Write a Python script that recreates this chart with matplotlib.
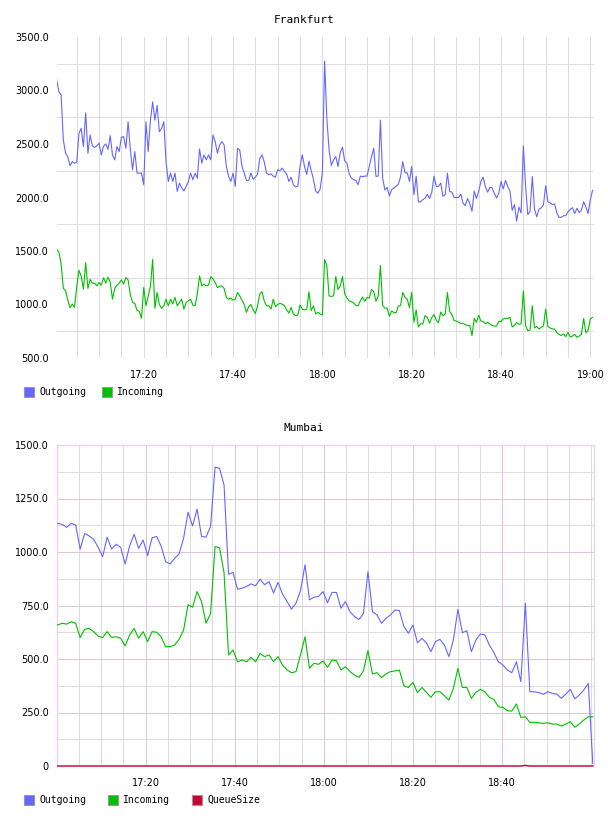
import numpy as np
import matplotlib
matplotlib.use("Agg")
import matplotlib.pyplot as plt
from matplotlib.patches import Rectangle
from matplotlib.ticker import MultipleLocator, FixedLocator, FuncFormatter


# Data -----------------------------------------------------------------
# times are minutes after 17:00

# Frankfurt: one sample every 30 s from 17:00:30
fra_start = 0.5
fra_step = 0.5

fra_out = [
    3101, 2987, 2960, 2537, 2414, 2380, 2296, 2336, 2320, 2330,
    2600, 2646, 2476, 2791, 2414, 2584, 2482, 2469, 2482, 2507,
    2398, 2480, 2500, 2450, 2578, 2398, 2352, 2476, 2429, 2562,
    2569, 2460, 2708, 2445, 2259, 2429, 2228, 2228, 2228, 2119,
    2708, 2429, 2723, 2894, 2723, 2860, 2615, 2646, 2708, 2330,
    2150, 2228, 2150, 2228, 2057, 2135, 2090, 2060, 2104, 2150,
    2228, 2166, 2228, 2181, 2454, 2321, 2398, 2352, 2398, 2352,
    2584, 2522, 2414, 2491, 2522, 2491, 2290, 2197, 2150, 2228,
    2104, 2460, 2445,
    2290, 2228, 2160, 2158, 2228, 2170, 2190, 2220, 2367, 2398,
    2330, 2228, 2212, 2220, 2200, 2190, 2260, 2250, 2274, 2243,
    2220, 2150, 2190, 2120, 2100, 2104, 2290, 2400, 2290, 2215,
    2340, 2250, 2170, 2060, 2040, 2080, 2228, 3275, 2739, 2445,
    2300, 2350, 2383, 2290, 2420, 2470, 2340, 2320, 2220, 2181,
    2166, 2160, 2120, 2200, 2195, 2200, 2200, 2290, 2380, 2460,
    2197, 2200, 2723, 2180, 2070, 2095, 2015, 2073, 2088, 2104,
    2125, 2190, 2336, 2230, 2230, 2150, 2290, 2026, 2200, 1960,
    1960, 1980, 1995, 2030, 1990, 2050, 2200, 2104, 2104, 2135,
    2011, 2026, 2228, 2057, 2050, 2000, 2000, 2000, 2030, 1945,
    1925, 1990, 1945, 1872, 2060, 1990, 2060, 2150, 2190, 2100,
    2050, 2095, 2090, 2040, 1995, 2040, 2150, 2080, 2160, 2104,
    2060, 1880, 1934, 1780, 1910, 1856, 2482, 2104, 1841, 1870,
    2197, 1890, 1820, 1890, 1903, 1930, 2110, 1960, 1949, 1934,
    1940, 1855, 1815, 1815, 1830, 1830, 1865, 1890, 1905, 1850,
    1900, 1860, 1880, 1960, 1910, 1850, 1980, 2067,
]

fra_in = [
    1515, 1490, 1380, 1150, 1130, 1040, 970, 1004, 973, 1170,
    1320, 1265, 1143, 1391, 1150, 1236, 1199, 1199, 1174, 1205,
    1180, 1250, 1200, 1255, 1210, 1050, 1150, 1180, 1200, 1230,
    1190, 1252, 1230, 1090, 1020, 1010, 945, 935, 871, 1159,
    988, 1081, 1170, 1422, 964, 1112, 1000, 964, 988, 1050,
    988, 1050, 1004, 1066, 988, 1019, 1050, 957, 1019, 1035,
    1050, 994, 988, 1100, 1267, 1174, 1190, 1174, 1180, 1260,
    1240, 1205, 1159, 1170, 1174, 1150, 1066, 1050, 1060, 1040,
    1050, 1112, 1081,
    1040, 1000, 927, 980, 1000, 950, 915, 990, 1100, 1120,
    1030, 988, 988, 957, 1050, 980, 1000, 1010, 1004, 988,
    950, 920, 973, 911, 896, 900, 995, 957, 950, 955,
    1119, 942, 988, 911, 927, 911, 902, 1422, 1360, 1080,
    1075, 1081, 1261, 1140, 1174, 1261, 1100, 1060, 1035, 1025,
    1015, 990, 988, 1035, 1070, 1030, 1066, 1060, 1140, 1120,
    1030, 1080, 1366, 990, 965, 967, 890, 940, 925, 921,
    985, 990, 1112, 1066, 1050, 970, 1112, 834, 950, 790,
    820, 818, 896, 880, 825, 880, 905, 855, 830, 930,
    896, 911, 1112, 935, 905, 850, 845, 834, 822, 825,
    810, 805, 803, 710, 870, 835, 900, 845, 840, 820,
    834, 818, 803, 798, 800, 842, 840, 866, 872, 870,
    880, 790, 805, 830, 815, 820, 1128, 803, 756, 760,
    988, 780, 795, 772, 785, 800, 957, 795, 780, 772,
    770, 737, 720, 710, 725, 700, 740, 695, 705, 720,
    694, 705, 720, 869, 735, 760, 865, 880,
]

# Mumbai: one sample about every minute from 17:00:15
mum_start = 0.26
mum_step = 1.009

mum_out = [
    1134, 1129, 1115, 1134, 1126, 1013, 1087, 1075, 1059, 1022,
    978, 1069, 1014, 1036, 1022, 944, 1028, 1083, 1017, 1056,
    983, 1067, 1072, 1028, 955, 944, 970, 991, 1064, 1186,
    1122, 1200, 1072, 1070, 1119, 1396, 1391, 1313, 896, 905,
    826, 831, 839, 851, 842, 873, 847, 862, 808, 858,
    803, 769, 733, 761, 819, 940, 776, 789, 792, 815,
    763, 811, 811, 737, 768, 721, 698, 685, 713, 908,
    721, 706, 667, 690, 706, 729, 726, 651, 620, 659,
    576, 596, 576, 534, 581, 592, 565, 511, 589, 732,
    623, 632, 534, 589, 617, 612, 565, 530, 487, 472,
    449, 436, 487, 394, 760, 347, 347, 343, 335, 347,
    339, 336, 316, 336, 358, 314, 332, 355, 386, 12,
]

mum_in = [
    659, 667, 663, 674, 667, 600, 639, 643, 628, 607,
    600, 628, 601, 604, 597, 561, 612, 643, 597, 628,
    581, 628, 625, 604, 558, 558, 565, 592, 635, 754,
    742, 815, 768, 667, 713, 1025, 1020, 903, 519, 542,
    487, 495, 487, 508, 487, 526, 511, 519, 487, 511,
    472, 449, 436, 441, 519, 604, 456, 480, 475, 491,
    461, 495, 492, 449, 464, 441, 425, 414, 445, 539,
    430, 436, 413, 430, 441, 444, 448, 374, 367, 391,
    343, 367, 344, 321, 347, 347, 328, 308, 363, 456,
    367, 367, 316, 344, 358, 347, 321, 311, 277, 274,
    258, 257, 290, 227, 230, 204, 204, 202, 199, 202,
    196, 196, 187, 196, 207, 181, 196, 215, 230, 230,
]

mum_queue = [
    0, 0, 0, 0, 0, 0, 0, 0, 0, 0, 0, 0, 0, 0, 0, 0, 0, 0, 0, 0,
    0, 0, 0, 0, 0, 0, 0, 0, 0, 0, 0, 0, 0, 0, 0, 0, 0, 0, 0, 0,
    0, 0, 0, 0, 0, 0, 0, 0, 0, 0, 0, 0, 0, 0, 0, 0, 0, 0, 0, 0,
    0, 0, 0, 0, 0, 0, 0, 0, 0, 0, 0, 0, 0, 0, 0, 0, 0, 0, 0, 0,
    0, 0, 0, 0, 0, 0, 0, 0, 0, 0, 0, 0, 0, 0, 0, 0, 0, 0, 0, 0,
    0, 0, 0, 0, 3, 0, 0, 0, 0, 0, 0, 0, 0, 0, 0, 0, 0, 0, 0, 0,
]


# Style ----------------------------------------------------------------

BLUE = "#6666FF"
GREEN = "#00C000"
RED = "#CC0033"
GRID = "#DEDEDE"
MAJOR = "#DCC6DC"
FRAME = "#EAD6EA"

W, H = 608, 816
fig = plt.figure(figsize=(W / 100, H / 100), dpi=100)


def box(l, t, r, b):
    return [l / W, 1 - b / H, (r - l) / W, (b - t) / H]


def hhmm(m, _):
    m = int(round(m))
    return f"{17 + m // 60}:{m % 60:02d}"


def legend(y, items):
    for x, label, color in items:
        fig.add_artist(Rectangle((x / W, 1 - (y + 5) / H), 10 / W, 10 / H,
                                 transform=fig.transFigure, facecolor=color,
                                 edgecolor="#999999", lw=0.8))
        fig.text((x + 15) / W, 1 - y / H, label, va="center", ha="left",
                 family="DejaVu Sans Mono", fontsize=7)


# Frankfurt ------------------------------------------------------------

ax1 = fig.add_axes(box(57, 37, 594, 358))
fra_t = fra_start + fra_step * np.arange(len(fra_out))

ax1.plot(fra_t, fra_out, color=BLUE, lw=0.8, zorder=3)
ax1.plot(fra_t, fra_in, color=GREEN, lw=0.8, zorder=3)

ax1.set_xlim(0.58, 120.82)
ax1.set_ylim(500, 3500)
ax1.xaxis.set_major_locator(MultipleLocator(20))
ax1.xaxis.set_minor_locator(MultipleLocator(5))
ax1.yaxis.set_major_locator(MultipleLocator(500))
ax1.yaxis.set_minor_locator(MultipleLocator(250))
ax1.xaxis.set_major_formatter(FuncFormatter(hhmm))
ax1.yaxis.set_major_formatter(FuncFormatter(lambda v, _: f"{v:.1f}"))

ax1.set_axisbelow(True)
ax1.grid(which="both", axis="x", color=GRID, lw=0.75)
ax1.grid(which="minor", axis="y", color=GRID, lw=0.75)
ax1.tick_params(which="both", length=0, labelsize=7)
ax1.tick_params(axis="x", pad=9)
ax1.tick_params(axis="y", pad=6)
for s in ax1.spines.values():
    s.set_visible(False)

fig.text(0.5, 1 - 20 / H, "Frankfurt", ha="center", va="center",
         family="DejaVu Sans Mono", fontsize=8)
legend(392, [(24, "Outgoing", BLUE), (102, "Incoming", GREEN)])


# Mumbai ---------------------------------------------------------------

ax2 = fig.add_axes(box(57, 445, 594, 766))
mum_t = mum_start + mum_step * np.arange(len(mum_out))

ax2.plot(mum_t, mum_out, color=BLUE, lw=0.8, zorder=3)
ax2.plot(mum_t, mum_in, color=GREEN, lw=0.8, zorder=3)
ax2.plot(mum_t, mum_queue, color=RED, lw=1.0, zorder=4, clip_on=False)

ax2.set_xlim(0.11, 120.6)
ax2.set_ylim(0, 1500)
ax2.xaxis.set_major_locator(FixedLocator([20, 40, 60, 80, 100]))
ax2.xaxis.set_minor_locator(MultipleLocator(5))
ax2.yaxis.set_major_locator(MultipleLocator(250))
ax2.yaxis.set_minor_locator(MultipleLocator(125))
ax2.xaxis.set_major_formatter(FuncFormatter(hhmm))
ax2.yaxis.set_major_formatter(
    FuncFormatter(lambda v, _: "0" if v == 0 else f"{v:.1f}"))

ax2.set_axisbelow(True)
ax2.grid(which="minor", color=GRID, lw=0.75)
ax2.grid(which="major", color=MAJOR, lw=0.75)
ax2.tick_params(which="both", length=0, labelsize=7)
ax2.tick_params(axis="x", pad=9)
ax2.tick_params(axis="y", pad=6)
for s in ax2.spines.values():
    s.set_color(FRAME)
    s.set_linewidth(1.0)

fig.text(0.5, 1 - 428 / H, "Mumbai", ha="center", va="center",
         family="DejaVu Sans Mono", fontsize=8)
legend(800, [(24, "Outgoing", BLUE), (108, "Incoming", GREEN),
             (192, "QueueSize", RED)])

fig.savefig("out.png", dpi=100)
